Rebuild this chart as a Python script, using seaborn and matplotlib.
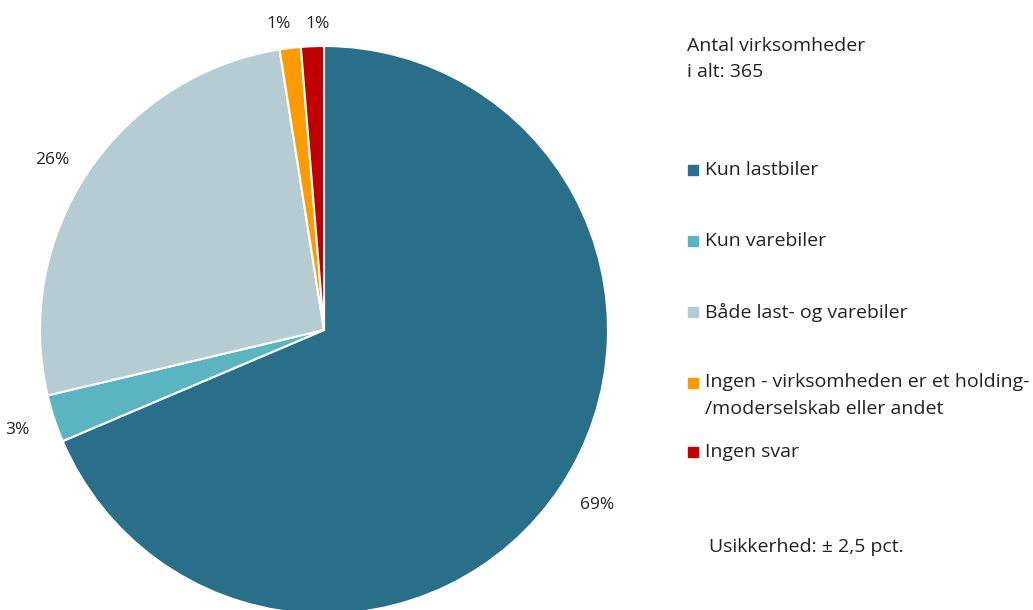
import matplotlib
matplotlib.use("Agg")
import numpy as np
import seaborn as sns
from matplotlib import pyplot as plt
from matplotlib.patches import Rectangle

sns.set_theme(style="white")
plt.rcParams["font.family"] = ["Open Sans", "DejaVu Sans"]

categories = [
    "Kun lastbiler",
    "Kun varebiler",
    "Både last- og varebiler",
    "Ingen - virksomheden er et holding-\n/moderselskab eller andet",
    "Ingen svar",
]
shares = [68.6, 2.7, 26.2, 1.2, 1.3]
colors = ["#2A6F8A", "#5AB5C0", "#B6CCD3", "#FF9B00", "#C00000"]
total_label = "Antal virksomheder\ni alt: 365"
note_label = "Usikkerhed: ± 2,5 pct."

W, H = 1033, 610
fig = plt.figure(figsize=(W / 100, H / 100), dpi=100)
text_col = "#222222"

# pie axes: centre (324, 330) px, radius 284 px
cx, cy, r = 324, 330, 284
ax = fig.add_axes([(cx - r) / W, 1 - (cy + r) / H, 2 * r / W, 2 * r / H])
wedges, _ = ax.pie(
    shares,
    colors=colors,
    startangle=90,
    counterclock=False,
    wedgeprops=dict(edgecolor="white", linewidth=1.5),
)
ax.set_xlim(-1, 1)
ax.set_ylim(-1, 1)
ax.set_aspect("equal")

# outside-end labels: box edge sits just outside the rim
renderer = fig.canvas.get_renderer()
labels = []
for w, v in zip(wedges, shares):
    theta = np.deg2rad((w.theta1 + w.theta2) / 2)
    c, s = np.cos(theta), np.sin(theta)
    t = ax.text(0, 0, f"{v:.0f}%", fontsize=12.5,
                color=text_col, ha="center", va="center")
    bb = t.get_window_extent(renderer)
    # shift so the box grows away from the pie
    dx = (bb.width / 2 + 7) * c / r
    dy = (bb.height / 2) * s / r - 3 / r
    t.set_position((1.067 * c + dx, 1.067 * s + dy))
    labels.append(t)

# spread the small neighbouring labels at the top apart
small = [t for t, v in zip(labels, shares) if v < 2]
if len(small) == 2:
    a, b = small
    xa, ya = a.get_position()
    xb, yb = b.get_position()
    mid = (xa + xb) / 2
    gap = 39 / r
    yy = min(ya, yb)
    a.set_position((mid - gap / 2, yy))
    b.set_position((mid + gap / 2, yy))

# legend on the right
fs = 14
fig.text(687 / W, 1 - 59 / H, total_label, fontsize=fs, color=text_col,
         va="center", ha="left", linespacing=1.55)

legend_y = [170, 241, 312, 383, 452]
for lab, col, y in zip(categories, colors, legend_y):
    fig.patches.append(Rectangle((688 / W, 1 - (y + 5) / H), 10 / W, 10 / H,
                                 transform=fig.transFigure, color=col))
    if "\n" in lab:
        fig.text(705 / W, 1 - (y - 10) / H, lab, fontsize=fs, color=text_col,
                 va="top", ha="left", linespacing=1.65)
    else:
        fig.text(705 / W, 1 - y / H, lab, fontsize=fs, color=text_col,
                 va="center", ha="left")

fig.text(709 / W, 1 - 547 / H, note_label, fontsize=fs, color=text_col,
         va="center", ha="left")

fig.savefig("out.png", dpi=100)
